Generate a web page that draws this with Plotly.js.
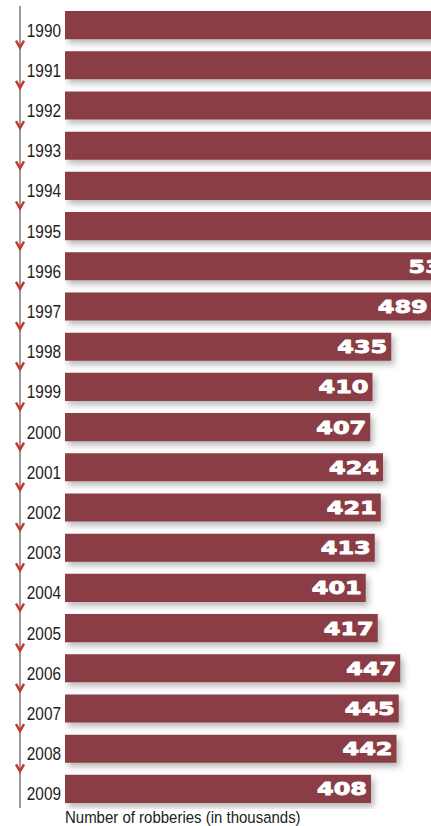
<!DOCTYPE html>
<html>
<head>
<meta charset="utf-8">
<script src="https://cdn.plot.ly/plotly-3.0.1.min.js"></script>
<style>
  html, body { margin: 0; padding: 0; background: #fff; }
  #chart { width: 431px; height: 826px; }
</style>
</head>
<body>
<div id="chart"></div>
<script>
// ---- data ----
var years = ['1990','1991','1992','1993','1994','1995','1996','1997','1998','1999',
             '2000','2001','2002','2003','2004','2005','2006','2007','2008','2009'];
var robberies = [639, 688, 672, 660, 619, 581, 530, 489, 435, 410,
                 407, 424, 421, 413, 401, 417, 447, 445, 442, 408];
// value labels as printed (the first six fall outside the visible frame)
var valueLabels = ['', '', '', '', '', '', '530', '489', '435', '410',
                   '407', '424', '421', '413', '401', '417', '447', '445', '442', '408'];
var axisTitle = 'Number of robberies (in thousands)';

// ---- style ----
var W = 431, H = 826;
var mT = 5, mB = 17;
var plotH = H - mT - mB;
var barColor = '#8a3e45';
var arrowColor = '#c23a2e';
var labelFont = '"Liberation Sans", Arial, sans-serif';

var trace = {
  type: 'bar',
  orientation: 'h',
  y: years,
  x: robberies,
  marker: { color: barColor, line: { width: 0 } },
  text: valueLabels,
  textposition: 'inside',
  insidetextanchor: 'end',
  constraintext: 'none',
  textfont: { family: '"DejaVu Sans", sans-serif', size: 18, color: '#ffffff', weight: 'bold' },
  hoverinfo: 'none',
  cliponaxis: true
};

// decorative axis line + chevrons at row boundaries
var shapes = [];
var lx = 20 / W, px = 1 / W, py = 1 / plotH;
shapes.push({
  type: 'line', xref: 'paper', yref: 'paper',
  x0: lx, x1: lx, y0: 1 * py, y1: 1 - 1 * py,
  line: { color: '#9a9a9a', width: 2 }
});
for (var k = 1; k < years.length; k++) {
  var yb = 1 - k / years.length;
  var yTip = yb - 2.5 * py, yArm = yb + 4.5 * py;
  shapes.push({
    type: 'path', xref: 'paper', yref: 'paper',
    path: 'M ' + (lx - 4 * px) + ',' + yArm + ' L ' + lx + ',' + yTip + ' L ' + (lx + 4 * px) + ',' + yArm,
    line: { color: arrowColor, width: 2.5 }
  });
}

var layout = {
  width: W, height: H,
  margin: { l: 0, r: 0, t: mT, b: mB, pad: 0 },
  paper_bgcolor: '#ffffff', plot_bgcolor: 'rgba(0,0,0,0)',
  showlegend: false,
  bargap: 0.3,
  xaxis: {
    domain: [65 / W, 1],
    range: [0, 488],
    showgrid: false, zeroline: false, showticklabels: false, ticks: '', showline: false,
    fixedrange: true
  },
  yaxis: {
    type: 'category',
    autorange: 'reversed',
    showgrid: false, zeroline: false, showline: false, ticks: '',
    ticklabelstandoff: 4,
    ticklabelshift: -5,
    tickfont: { family: labelFont, size: 18.5, color: '#222222' },
    fixedrange: true
  },
  shapes: shapes,
  annotations: [{
    xref: 'paper', yref: 'paper',
    x: 65 / W, y: -8 / plotH,
    xanchor: 'left', yanchor: 'middle',
    text: axisTitle, showarrow: false,
    font: { family: labelFont, size: 16.3, color: '#222222' }
  }]
};

// compress / stretch a text element horizontally and pin one of its edges
function reshape(el, factor, side, edge) {
  var natural = el.getComputedTextLength();
  el.setAttribute('textLength', natural * factor);
  el.setAttribute('lengthAdjust', 'spacingAndGlyphs');
  var r = el.getBoundingClientRect();
  var dx = side === 'right' ? edge - r.right : edge - r.left;
  el.setAttribute('transform', 'translate(' + dx + ',0) ' + (el.getAttribute('transform') || ''));
}

Plotly.newPlot('chart', [trace], layout, { displayModeBar: false, staticPlot: true }).then(function (gd) {
  var svg = gd.querySelector('.main-svg');
  var ns = 'http://www.w3.org/2000/svg';
  var defs = svg.querySelector('defs') || svg.insertBefore(document.createElementNS(ns, 'defs'), svg.firstChild);
  var f = document.createElementNS(ns, 'filter');
  f.setAttribute('id', 'barshadow');
  f.setAttribute('x', '-10%'); f.setAttribute('y', '-50%');
  f.setAttribute('width', '130%'); f.setAttribute('height', '220%');
  var ds = document.createElementNS(ns, 'feDropShadow');
  ds.setAttribute('dx', '3'); ds.setAttribute('dy', '4');
  ds.setAttribute('stdDeviation', '3');
  ds.setAttribute('flood-color', '#000'); ds.setAttribute('flood-opacity', '0.28');
  f.appendChild(ds);
  defs.appendChild(f);

  var svgLeft = svg.getBoundingClientRect().left;
  gd.querySelectorAll('.barlayer .point').forEach(function (pt) {
    var p = pt.querySelector('path');
    if (p) p.setAttribute('filter', 'url(#barshadow)');
    var t = pt.querySelector('text');
    if (p && t && t.textContent) {
      t.style.stroke = '#ffffff';
      t.style.strokeWidth = '0.9px';
      t.style.strokeLinejoin = 'round';
      var pr = p.getBoundingClientRect();
      reshape(t, 1.33, 'right', pr.right - 4);
    }
  });
  gd.querySelectorAll('.ytick text').forEach(function (t) {
    reshape(t, 0.83, 'right', svgLeft + 61);
  });
  gd.querySelectorAll('.annotation-text').forEach(function (t) {
    reshape(t, 0.92, 'left', svgLeft + 65);
  });
});
</script>
</body>
</html>
